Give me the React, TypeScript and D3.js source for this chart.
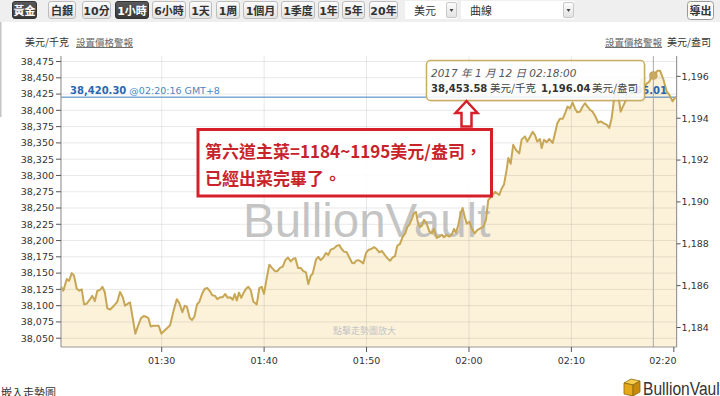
import React from "react";
import * as d3 from "d3";

// minutes after 01:20:00
const minutes = [0.18,0.40,0.73,0.96,1.22,1.44,1.71,1.96,2.20,2.42,2.68,3.01,3.23,3.47,3.72,3.98,4.21,4.44,4.69,4.96,5.22,5.45,5.67,5.93,6.20,6.42,6.69,6.91,7.17,7.43,7.69,7.98,8.25,8.47,8.70,8.93,9.18,9.45,9.71,9.97,10.23,10.49,10.82,11.14,11.47,11.72,12.02,12.25,12.47,12.74,12.96,13.19,13.45,13.68,13.94,14.20,14.46,14.72,14.94,15.21,15.43,15.70,15.96,16.21,16.45,16.70,16.94,17.13,17.33,17.55,17.77,17.97,18.23,18.46,18.69,18.95,19.28,19.53,19.77,19.99,20.25,20.51,20.77,21.06,21.29,21.55,21.82,22.07,22.33,22.60,22.85,23.05,23.31,23.57,23.83,24.09,24.31,24.55,24.74,25.07,25.29,25.52,25.78,26.04,26.27,26.50,26.82,27.09,27.34,27.57,27.80,28.06,28.32,28.58,28.78,28.97,29.19,29.43,29.68,29.95,30.21,30.46,30.73,30.99,31.24,31.51,31.77,32.03,32.29,32.55,32.78,33.00,33.27,33.53,33.78,33.98,34.17,34.41,34.63,34.83,35.02,35.22,35.41,35.61,35.87,36.13,36.39,36.58,36.85,37.10,37.36,37.56,37.82,38.08,38.34,38.54,38.73,38.96,39.19,39.38,39.58,39.78,40.03,40.29,40.56,40.81,41.14,41.40,41.66,41.88,42.22,42.54,42.96,43.19,43.42,43.68,43.84,44.07,44.32,44.59,44.91,45.14,45.47,45.69,45.95,46.22,46.44,46.67,46.93,47.10,47.32,47.58,47.84,48.17,48.39,48.62,48.88,49.15,49.40,49.63,49.86,50.12,50.35,50.57,50.83,51.10,51.32,51.55,51.81,52.07,52.33,52.62,52.86,53.18,53.44,53.69,53.93,54.15,54.35,54.57,54.81,55.06,55.39,55.72,56.11,56.53,56.86,57.08,57.34,57.60,57.83,58.00,58.42,58.65,58.97,59.30,59.55,59.88,60.10,60.27];

// USD per kg
const pricesKg = [38129,38123,38141,38138,38150,38146,38126,38123,38125,38102,38103,38110,38115,38107,38123,38124,38129,38121,38096,38094,38098,38102,38106,38121,38113,38100,38103,38105,38081,38057,38069,38081,38084,38083,38081,38068,38069,38069,38069,38057,38061,38065,38070,38091,38110,38104,38090,38100,38098,38081,38078,38083,38102,38106,38118,38126,38127,38122,38116,38115,38110,38113,38113,38118,38112,38113,38109,38118,38108,38120,38112,38119,38126,38129,38124,38106,38102,38127,38129,38118,38142,38163,38158,38153,38153,38158,38160,38170,38174,38168,38172,38173,38158,38158,38153,38151,38133,38146,38149,38171,38175,38170,38174,38181,38178,38186,38188,38192,38193,38187,38183,38182,38174,38166,38165,38169,38170,38168,38165,38181,38186,38187,38190,38187,38182,38184,38178,38173,38169,38174,38176,38192,38195,38206,38211,38221,38224,38233,38242,38244,38227,38221,38223,38232,38226,38214,38211,38218,38204,38206,38209,38205,38209,38206,38210,38218,38212,38224,38242,38250,38237,38226,38229,38218,38211,38216,38219,38221,38232,38262,38268,38275,38270,38280,38286,38309,38327,38318,38347,38339,38334,38355,38360,38352,38359,38367,38362,38352,38356,38342,38355,38351,38356,38350,38364,38380,38387,38387,38396,38406,38403,38412,38403,38397,38398,38406,38411,38406,38401,38398,38391,38381,38383,38380,38378,38373,38388,38416,38435,38424,38398,38407,38418,38424,38432,38427,38448,38432,38441,38444,38452,38453.58,38461,38461,38448,38429,38424,38414,38419,38420.30];

const leftTickValues = [38050,38075,38100,38125,38150,38175,38200,38225,38250,38275,38300,38325,38350,38375,38400,38425,38450,38475];
const rightTickValues = [1184,1186,1188,1190,1192,1194,1196];
const timeTickMinutes = [10,20,30,40,50,60];
const timeTickLabels = ["01:30","01:40","01:50","02:00","02:10","02:20"];
const rangeButtons = ["黃金","白銀","10分","1小時","6小時","1天","1周","1個月","1季度","1年","5年","20年"];
const selectedButtons = ["黃金","1小時"];
const currentPrice = 38420.3;
const currentPriceOz = 1195.01;
const currentStamp = "@02:20:16 GMT+8";
const hoverMinute = 58;
const hoverPriceKg = 38453.58;
const hoverPriceOz = 1196.04;
const hoverStamp = "2017 年 1 月 12 日 02:18:00";
const noteLines = ["第六道主菜=1184~1195美元/盎司，", "已經出菜完畢了。"];
const OZ_PER_KG = 32.1507;

// layout
const btnX = [12,48,82,115,152,189,216,243,281,318,342,369];
const btnW = [24,27,28,33,33,22,23,34,33,20,22,28];
const L = 61, R = 676.6, T = 56, B = 347;
const CJK = "'Noto Sans CJK TC','Noto Sans CJK SC',sans-serif";
const NUM = "'DejaVu Sans','Noto Sans CJK TC',sans-serif";

export default function App() {
  const x = d3.scaleLinear().domain([0.17, 60.27]).range([L, R]);
  const yDom = [38036.5, 38483.5];
  const y = d3.scaleLinear().domain(yDom).range([B, T]);
  const yR = d3.scaleLinear().domain([yDom[0] / OZ_PER_KG, yDom[1] / OZ_PER_KG]).range([B, T]);
  const n = Math.min(minutes.length, pricesKg.length);
  const pts = d3.range(n).map((i) => ({ m: minutes[i], v: pricesKg[i] }));
  const line = d3.line<any>().x((d) => x(d.m)).y((d) => y(d.v));
  const area = d3.area<any>().x((d) => x(d.m)).y0(B).y1((d) => y(d.v));
  const fmt = d3.format(",");
  const fmt2 = d3.format(",.2f");
  const yCur = y(currentPrice);
  const hx = x(hoverMinute);
  const hy = y(hoverPriceKg);

  return (
    <svg width={720} height={396} style={{ position: "fixed", left: 0, top: 0, display: "block", background: "#fff" }}>
      <defs>
        <linearGradient id="btn" x1="0" y1="0" x2="0" y2="1">
          <stop offset="0" stopColor="#fdfdfd" />
          <stop offset="1" stopColor="#e2e2e2" />
        </linearGradient>
        <linearGradient id="btnSel" x1="0" y1="0" x2="0" y2="1">
          <stop offset="0" stopColor="#5a5a5a" />
          <stop offset="1" stopColor="#383838" />
        </linearGradient>
        <clipPath id="plotClip">
          <rect x={L} y={T} width={R - L} height={B - T} />
        </clipPath>
      </defs>

      {/* toolbar */}
      <rect x={0} y={0} width={720} height={22} fill="#efefef" />
      <rect x={0} y={22} width={1.5} height={95} fill="#c4c4c4" />
      {rangeButtons.map((b, i) => {
        const sel = selectedButtons.includes(b);
        return (
          <g key={b}>
            <rect x={btnX[i] + 0.5} y={1.5} width={btnW[i]} height={17} rx={2.5}
              fill={sel ? "url(#btnSel)" : "url(#btn)"} stroke={sel ? "#333" : "#bdbdbd"} />
            <text x={btnX[i] + btnW[i] / 2 + 0.5} y={14.5} textAnchor="middle" fontSize={11}
              fontWeight={600} fontFamily={NUM} fill={sel ? "#fff" : "#333"}>{b}</text>
          </g>
        );
      })}
      {/* currency select */}
      <rect x={405} y={1} width={52} height={18} fill="#fff" />
      <text x={414} y={14.5} fontSize={11} fontFamily={CJK} fill="#333">美元</text>
      <rect x={446.5} y={2.5} width={10} height={15} rx={1.5} fill="url(#btn)" stroke="#c8c8c8" />
      <path d="M449.5,9 L453.5,9 L451.5,12 Z" fill="#444" />
      {/* chart type select */}
      <rect x={461} y={1} width={113} height={18} fill="#fff" />
      <text x={470} y={14.5} fontSize={11} fontFamily={CJK} fill="#333">曲線</text>
      <rect x={563.5} y={2.5} width={10} height={15} rx={1.5} fill="url(#btn)" stroke="#c8c8c8" />
      <path d="M566.5,9 L570.5,9 L568.5,12 Z" fill="#444" />
      {/* export */}
      <rect x={687.5} y={1.5} width={26} height={18} rx={3} fill="#fdfdfd" stroke="#9a9a9a" />
      <text x={700.5} y={14.5} textAnchor="middle" fontSize={11} fontWeight={600} fontFamily={CJK} fill="#333">導出</text>

      {/* unit row */}
      <text x={25} y={46} fontSize={10} fontFamily={CJK} fill="#333">美元/千克</text>
      <text x={76} y={46} fontSize={9.5} fontFamily={CJK} fill="#666" textDecoration="underline">設置價格警報</text>
      <text x={605} y={46} fontSize={9.5} fontFamily={CJK} fill="#666" textDecoration="underline">設置價格警報</text>
      <text x={667} y={46} fontSize={10} fontFamily={CJK} fill="#333">美元/盎司</text>

      {/* plot */}
      <rect x={L} y={T} width={R - L} height={B - T} fill="#fff" />
      <g clipPath="url(#plotClip)">
        <path d={area(pts) || ""} fill="#fcf2da" />
        {leftTickValues.map((v) => (
          <line key={v} x1={L} x2={R} y1={y(v)} y2={y(v)} stroke="#000" strokeOpacity={0.09} />
        ))}
        {timeTickMinutes.slice(0, 5).map((m) => (
          <line key={m} x1={x(m)} x2={x(m)} y1={T} y2={B} stroke="#000" strokeOpacity={0.09} />
        ))}
        <text x={243} y={237} fontSize={47.5} fontFamily="'Liberation Sans',Arial,sans-serif" fill="#bababa" fillOpacity={0.85}>BullionVault</text>
        <text x={333} y={334} fontSize={9} fontFamily={CJK} fill="#c4c4c4">點擊走勢圖放大</text>
        <line x1={L} x2={R} y1={yCur} y2={yCur} stroke="#3d7dc0" strokeWidth={1} />
        <line x1={hx} x2={hx} y1={T} y2={B} stroke="#a9a9a9" strokeWidth={1} />
        <path d={line(pts) || ""} fill="none" stroke="#c7a755" strokeWidth={2} strokeLinejoin="round" />
        <circle cx={hx} cy={hy} r={4} fill="#c9aa62" stroke="#b8964a" strokeWidth={0.5} />
      </g>

      {/* axes */}
      <line x1={L} x2={L} y1={T} y2={B} stroke="#9a9a9a" strokeWidth={1.2} />
      <line x1={R} x2={R} y1={T} y2={B} stroke="#9a9a9a" strokeWidth={1.2} />
      <line x1={L} x2={R} y1={B} y2={B} stroke="#9a9a9a" strokeWidth={1.2} />
      {leftTickValues.map((v) => (
        <g key={v}>
          <line x1={L - 5} x2={L} y1={y(v)} y2={y(v)} stroke="#555" />
          <text x={L - 7} y={y(v)} dy="0.35em" textAnchor="end" fontSize={9.5} fontFamily={NUM} fill="#333">{fmt(v)}</text>
        </g>
      ))}
      {rightTickValues.map((v) => (
        <g key={v}>
          <line x1={R} x2={R + 4} y1={yR(v)} y2={yR(v)} stroke="#555" />
          <text x={R + 5} y={yR(v)} dy="0.35em" fontSize={9.5} fontFamily={NUM} fill="#333">{fmt(v)}</text>
        </g>
      ))}
      {timeTickMinutes.map((m, i) => (
        <g key={m}>
          <line x1={x(m)} x2={x(m)} y1={B} y2={B + 5} stroke="#555" />
          <text x={i === timeTickMinutes.length - 1 ? R : x(m)} y={364}
            textAnchor={i === timeTickMinutes.length - 1 ? "end" : "middle"}
            fontSize={9.5} fontFamily={NUM} fill="#333">{timeTickLabels[i]}</text>
        </g>
      ))}

      {/* current price labels */}
      <text x={70} y={yCur - 3} fontSize={10} fontFamily={NUM}>
        <tspan fontWeight="bold" fill="#2a67b1">{fmt2(currentPrice)}</tspan>
        <tspan fill="#4a86c5" fontSize={9.5}> {currentStamp}</tspan>
      </text>
      <text x={667} y={yCur - 3} textAnchor="end" fontSize={10} fontWeight="bold" fontFamily={NUM} fill="#2a67b1">{fmt2(currentPriceOz)}</text>

      {/* tooltip */}
      <rect x={428} y={62} width={218} height={40} rx={4} fill="#000" fillOpacity={0.06} />
      <rect x={426.5} y={60.5} width={218} height={40} rx={4} fill="#fff" fillOpacity={0.88} stroke="#c9ad62" strokeWidth={1.5} />
      <text x={431} y={77} fontSize={10.5} fontStyle="italic" fontFamily={NUM} fill="#555">{hoverStamp}</text>
      <text y={92} fontSize={10} fontFamily={NUM} fill="#333">
        <tspan x={431} fontWeight="bold">{fmt2(hoverPriceKg)}</tspan>
        <tspan x={490} fontFamily={CJK} fontSize={10.5} fill="#444">美元/千克</tspan>
        <tspan x={541} fontWeight="bold">{fmt2(hoverPriceOz)}</tspan>
        <tspan x={592} fontFamily={CJK} fontSize={10.5} fill="#444">美元/盎司</tspan>
      </text>

      {/* red annotation */}
      <path d="M466.5,101 L477.5,113 L471.5,113 L471.5,126.5 L461.5,126.5 L461.5,113 L455.5,113 Z"
        fill="#fff" stroke="#d62029" strokeWidth={2.5} strokeLinejoin="miter" />
      <rect x={198} y={129.5} width={293.5} height={66.5} fill="#fff" fillOpacity={0.9} stroke="#d62029" strokeWidth={3} />
      {noteLines.map((t, i) => (
        <text key={i} x={205} y={158 + i * 26.5} fontSize={17} fontWeight="bold" fontFamily={CJK} fill="#c8232b">{t}</text>
      ))}

      {/* footer */}
      <text x={1} y={397} fontSize={11} fontFamily={CJK} fill="#333">嵌入走勢圖</text>
      <g>
        <path d="M624,383 L631,379 L640,381 L633,385 Z" fill="#f7cd4c" stroke="#8a6a10" strokeWidth={0.8} />
        <path d="M624,383 L633,385 L633,396 L624,394 Z" fill="#e6a817" stroke="#8a6a10" strokeWidth={0.8} />
        <path d="M633,385 L640,381 L640,392 L633,396 Z" fill="#c98a0b" stroke="#8a6a10" strokeWidth={0.8} />
      </g>
      <g transform="translate(643,395) scale(0.82,1)">
        <text x={0} y={0} fontSize={19} fontFamily="'Liberation Sans',Arial,sans-serif" fill="#333">BullionVault</text>
      </g>
    </svg>
  );
}
